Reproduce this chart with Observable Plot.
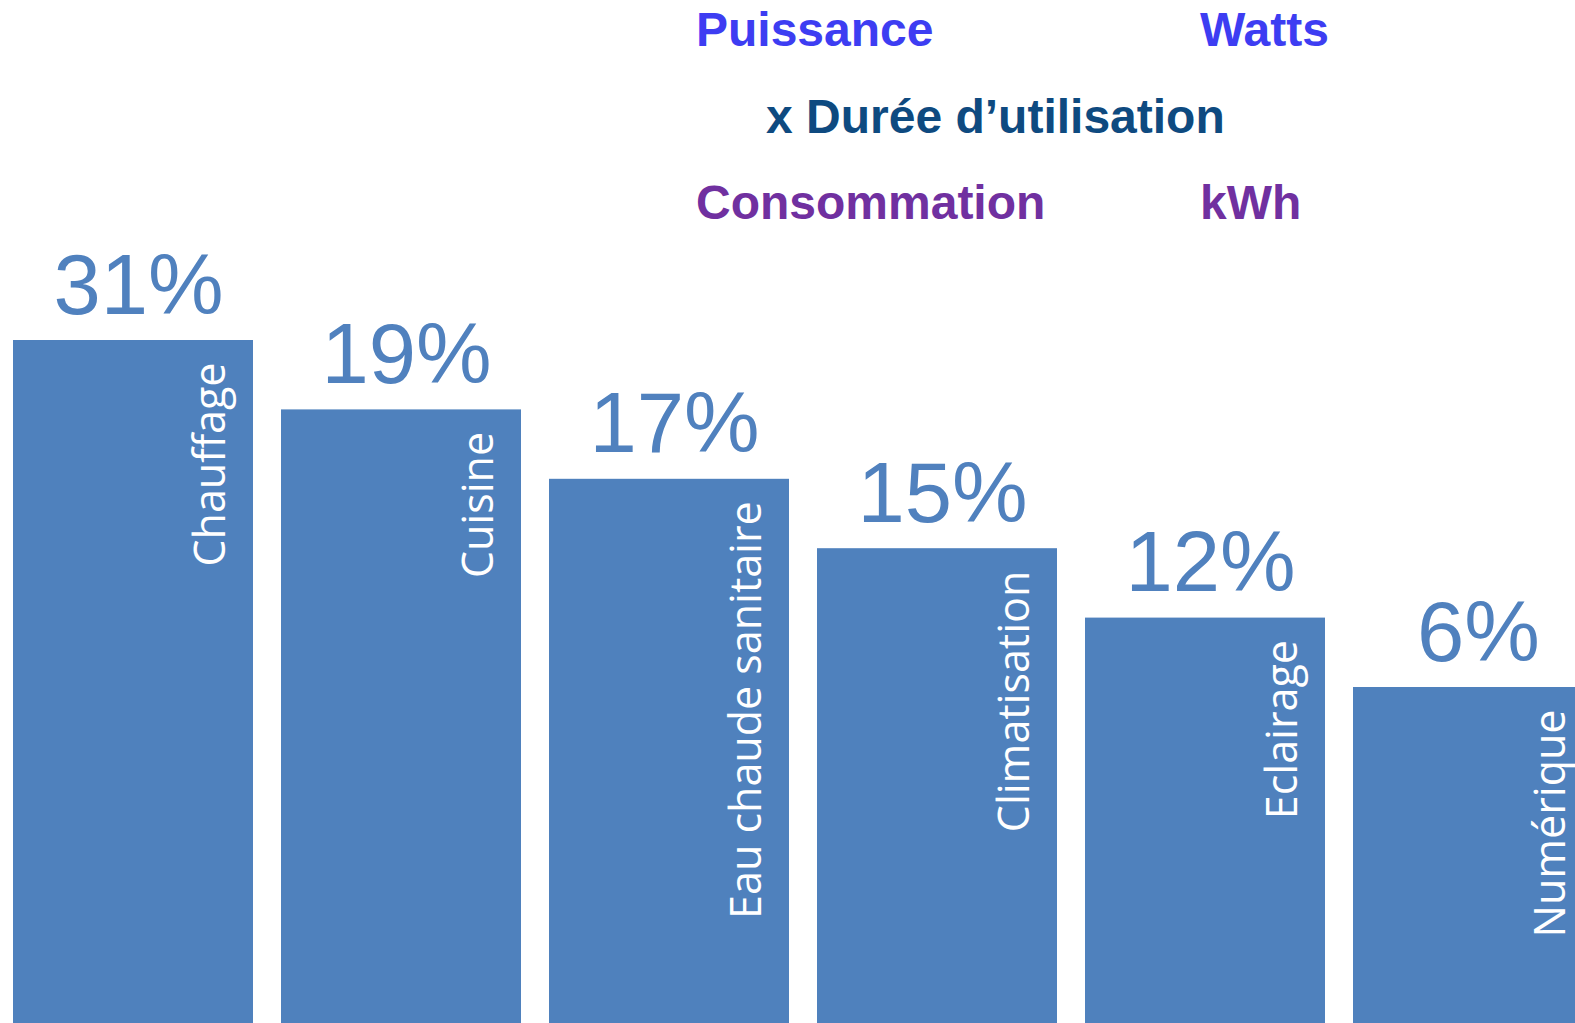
<!DOCTYPE html>
<html>
<head>
<meta charset="utf-8">
<script src="https://cdn.jsdelivr.net/npm/d3@7"></script>
<script src="https://cdn.jsdelivr.net/npm/@observablehq/plot@0.6"></script>
<style>
  html, body { margin: 0; padding: 0; background: #fff; overflow: hidden; }
  #wrap { position: relative; width: 1575px; height: 1023px; overflow: hidden; }
  #chart svg { overflow: hidden; display: block; }
  .t { position: absolute; font-family: "Liberation Sans", Arial, sans-serif; font-weight: bold; font-size: 48px; line-height: 48px; white-space: nowrap; }
  .p { color: #3d3df2; }
  .d { color: #0e4a80; }
  .c { color: #7030a0; }
  g[aria-label="pct"] text { filter: drop-shadow(1px 2px 1.5px rgba(0,0,0,0.25)); }
</style>
</head>
<body>
<div id="wrap">
  <div id="chart"></div>
  <div class="t p" style="left:696px; top:6px;">Puissance</div>
  <div class="t p" style="left:1200px; top:6px;">Watts</div>
  <div class="t d" style="left:766px; top:93px;">x Durée d’utilisation</div>
  <div class="t c" style="left:696px; top:179px;">Consommation</div>
  <div class="t c" style="left:1200px; top:179px;">kWh</div>
</div>
<script>
const categories = ["Chauffage", "Cuisine", "Eau chaude sanitaire", "Climatisation", "Eclairage", "Numérique"];
const values = [31, 19, 17, 15, 12, 6];
const labels = ["31%", "19%", "17%", "15%", "12%", "6%"];

const data = categories.map((c, i) => ({category: c, value: values[i], label: labels[i]}));

// The bars in the reference step down evenly rather than proportionally:
// a piecewise y scale maps each value to its step.
const topY = 340, stepY = 69.4;
const asc = [...values].sort((a, b) => a - b);
const yDomain = [0, ...asc];
const yRange = [1100, ...asc.map((v, j) => topY + (asc.length - 1 - j) * stepY)];

const blue = "#4f81bd";

const chart = Plot.plot({
  width: 1575,
  height: 1023,
  marginTop: 0, marginBottom: 0, marginLeft: 0, marginRight: 0,
  x: {domain: categories, range: [12, 1594], paddingInner: 0.105, paddingOuter: 0, axis: null},
  y: {type: "linear", domain: yDomain, range: yRange, axis: null},
  marks: [
    Plot.barY(data, {x: "category", y: "value", fill: blue}),
    Plot.text(data, {
      x: "category", y: "value", text: "label",
      fill: "#5081be", fontSize: 85, fontFamily: "Liberation Sans, Arial, sans-serif",
      lineAnchor: "bottom", dy: -27, dx: 5, ariaLabel: "pct"
    }),
    Plot.text(data, {
      x: "category", y: "value", text: "category",
      fill: "white", fontSize: 43, fontFamily: "Open Sans, sans-serif",
      rotate: -90, textAnchor: "end", lineAnchor: "bottom", dx: 91, dy: 22
    })
  ]
});
document.getElementById("chart").appendChild(chart);
</script>
</body>
</html>
